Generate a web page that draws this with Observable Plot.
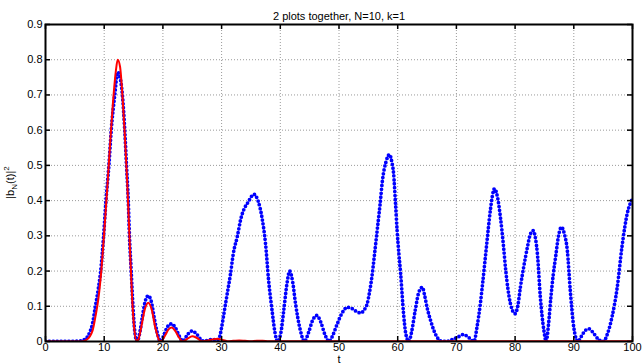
<!DOCTYPE html>
<html>
<head>
<meta charset="utf-8">
<script src="https://cdn.jsdelivr.net/npm/d3@7"></script>
<script src="https://cdn.jsdelivr.net/npm/@observablehq/plot@0.6"></script>
<style>
  html, body { margin: 0; padding: 0; background: #fff; }
  #chart { width: 642px; height: 364px; }
</style>
</head>
<body>
<div id="chart"></div>
<script>
const titleText = "2 plots together, N=10, k=1";
const xLabel = "t";
const xTicks = [0, 10, 20, 30, 40, 50, 60, 70, 80, 90, 100];
const yTicks = [0, 0.1, 0.2, 0.3, 0.4, 0.5, 0.6, 0.7, 0.8, 0.9];

// blue dotted series
const tBlue = [0, 2, 4, 6, 7, 7.5, 8, 8.5, 9, 9.4, 9.9, 10.3, 10.8, 11.2, 11.8, 12.3, 12.7, 13.1, 13.5, 13.8, 14.1, 14.3, 14.6, 14.9, 15.2, 15.6,
  16.0, 16.5, 17.0, 17.5, 18.0, 18.6, 19.2, 19.6, 20.1, 20.7, 21.4, 22.1, 22.8, 23.4, 24.2, 25.0, 25.8, 26.5, 27.0, 27.8, 28.5, 29.2,
  29.6, 30.0, 30.5, 31.0, 31.5, 32.0, 32.7, 33.3, 33.8, 34.5, 35.5, 36.2, 36.9, 37.5, 38.0, 38.6, 39.1, 39.5,
  40.1, 40.6, 41.1, 41.6, 42.1, 42.6, 43.4, 44.1, 44.8, 45.5, 46.2, 46.9, 47.6, 48.3,
  49.0, 49.7, 50.5, 51.4, 52.3, 53.0, 53.7, 54.3, 54.8, 55.2, 55.6, 56.0, 56.5, 57.0, 57.4, 58.0, 58.6, 59.0, 59.3, 59.6, 59.9, 60.2, 60.5, 61.0, 61.4, 61.9,
  62.4, 63.0, 63.6, 64.2, 64.6, 65.0, 65.6, 66.2, 66.8, 67.3, 68.2, 69.2, 70.2, 71.2, 72.2, 73.0,
  73.5, 74.1, 74.5, 75.0, 75.4, 75.8, 76.5, 77.0, 77.5, 78.0, 78.4, 79.2, 80.0, 80.5, 80.9, 81.5, 82.1, 82.6, 83.1, 83.5, 83.8, 84.3, 84.9, 85.3,
  85.7, 86.1, 86.5, 86.9, 87.4, 87.9, 88.4, 88.9, 89.4, 90.0, 90.7, 91.3, 92.0, 92.6, 93.3, 94.2, 95.0,
  95.8, 96.5, 97.4, 98.2, 99.1, 100];
const vBlue = [0, 0, 0, 0.002, 0.01, 0.025, 0.05, 0.1, 0.15, 0.2, 0.3, 0.4, 0.5, 0.6, 0.7, 0.765, 0.75, 0.7, 0.6, 0.5, 0.4, 0.3, 0.2, 0.1, 0.03, 0.0,
  0.02, 0.07, 0.115, 0.13, 0.115, 0.06, 0.015, 0.0, 0.015, 0.04, 0.05, 0.04, 0.015, 0.001, 0.02, 0.03, 0.02, 0.005, 0.001, 0.004, 0.006, 0.004,
  0.01, 0.04, 0.09, 0.14, 0.19, 0.25, 0.3, 0.35, 0.375, 0.395, 0.418, 0.40, 0.35, 0.275, 0.175, 0.088, 0.025, 0.0,
  0.025, 0.09, 0.16, 0.2, 0.17, 0.107, 0.033, 0.0, 0.025, 0.06, 0.074, 0.055, 0.02, 0.0,
  0.02, 0.05, 0.08, 0.097, 0.093, 0.085, 0.081, 0.09, 0.107, 0.14, 0.183, 0.24, 0.315, 0.39, 0.457, 0.51, 0.531, 0.51, 0.477, 0.4, 0.315, 0.25, 0.193, 0.079, 0.02, 0.0,
  0.03, 0.09, 0.14, 0.154, 0.13, 0.097, 0.06, 0.03, 0.01, 0.002, 0.0, 0.005, 0.012, 0.02, 0.01, 0.0,
  0.04, 0.11, 0.17, 0.25, 0.315, 0.375, 0.434, 0.41, 0.353, 0.275, 0.203, 0.108, 0.079, 0.105, 0.154, 0.215, 0.268, 0.305, 0.315, 0.29, 0.249, 0.126, 0.032, 0.0,
  0.05, 0.126, 0.19, 0.24, 0.3, 0.325, 0.305, 0.258, 0.145, 0.04, 0.0, 0.015, 0.032, 0.036, 0.025, 0.006, 0.0,
  0.025, 0.069, 0.154, 0.268, 0.363, 0.405];

// red solid series
const tRed = [0, 2, 4, 6, 7, 8, 8.5, 9, 9.5, 10, 10.5, 11, 11.5, 12, 12.3, 12.7, 13.1, 13.5, 13.9, 14.2, 14.5, 14.8, 15.1, 15.5,
  15.8, 16.3, 16.9, 17.5, 18.1, 18.7, 19.4, 19.7, 20.3, 21.0, 21.5, 22.1, 22.8, 23.4, 24.2, 25.0, 25.8, 26.7, 27.5, 28.5, 29.3, 30.0,
  31, 32, 33, 34, 35, 36, 37, 38, 40, 45, 50, 55, 60, 65, 70, 75, 80, 85, 90, 95, 100];
const vRed = [0, 0, 0, 0, 0.005, 0.03, 0.07, 0.12, 0.2, 0.31, 0.43, 0.56, 0.68, 0.77, 0.80, 0.78, 0.70, 0.59, 0.46, 0.34, 0.22, 0.11, 0.04, 0.002,
  0.005, 0.04, 0.09, 0.11, 0.09, 0.04, 0.003, 0.001, 0.015, 0.035, 0.04, 0.03, 0.01, 0.0, 0.008, 0.015, 0.01, 0.001, 0.002, 0.006, 0.008, 0.005,
  0.001, 0.002, 0.003, 0.002, 0.001, 0.002, 0.002, 0.001, 0.001, 0.001, 0.001, 0.001, 0.001, 0.001, 0.001, 0.001, 0.001, 0.001, 0.001, 0.001, 0.001];

const blue = tBlue.map((t, i) => ({t, v: vBlue[i]}));
const red = tRed.map((t, i) => ({t, v: vRed[i]}));

const W = 642, H = 364;
const mL = 45, mR = 10, mT = 24, mB = 23;
const tickLenY = 0.9 * 5 / (H - mT - mB);
const tickLenX = 100 * 5 / (W - mL - mR);
const fmt = d => String(+d.toFixed(1));

const chart = Plot.plot({
  width: W, height: H,
  marginLeft: mL, marginRight: mR, marginTop: mT, marginBottom: mB,
  style: {fontFamily: "'Liberation Sans', Arial, Helvetica, sans-serif", fontSize: "11px", color: "#000", background: "#fff"},
  x: {domain: [0, 100], label: null},
  y: {domain: [0, 0.9], label: null},
  marks: [
    Plot.ruleX(xTicks.slice(1, -1), {stroke: "#9a9a9a", strokeDasharray: "1,2", strokeWidth: 1}),
    Plot.ruleY(yTicks.slice(1), {stroke: "#9a9a9a", strokeDasharray: "1,2", strokeWidth: 1}),
    Plot.line(blue, {x: "t", y: "v", curve: "monotone-x", stroke: "#0000ff", strokeWidth: 3.8, strokeDasharray: "0 3.9", strokeLinecap: "round", clip: true}),
    Plot.line(red, {x: "t", y: "v", curve: "monotone-x", stroke: "#ff0000", strokeWidth: 2, clip: true}),
    // inward ticks
    Plot.ruleX(xTicks, {y1: 0, y2: tickLenY, stroke: "#000", strokeWidth: 1.5}),
    Plot.ruleX(xTicks, {y1: 0.9, y2: 0.9 - tickLenY, stroke: "#000", strokeWidth: 1.5}),
    Plot.ruleY(yTicks, {x1: 0, x2: tickLenX, stroke: "#000", strokeWidth: 1.5}),
    Plot.ruleY(yTicks, {x1: 100, x2: 100 - tickLenX, stroke: "#000", strokeWidth: 1.5}),
    Plot.frame({stroke: "#000", strokeWidth: 2}),
    Plot.axisX({ticks: xTicks, tickSize: 0, tickPadding: 2, tickFormat: fmt, fontSize: 11, label: null}),
    Plot.axisY({ticks: yTicks, tickSize: 0, tickPadding: 3, tickFormat: fmt, fontSize: 11, label: null}),
    Plot.text([titleText], {frameAnchor: "top", dy: -12, fontSize: 11, fill: "#000"}),
    Plot.text([xLabel], {frameAnchor: "bottom", lineAnchor: "top", dy: 14, fontSize: 11, fill: "#000"})
  ]
});

// y-axis label with subscript and superscript
const yMid = chart.scale("y").apply(0.45);
const lab = d3.select(chart).append("text")
  .attr("transform", `translate(14,${yMid}) rotate(-90)`)
  .attr("text-anchor", "middle")
  .attr("font-size", 11)
  .attr("fill", "#000");
lab.append("tspan").text("|b");
lab.append("tspan").attr("font-size", 8).attr("dy", 3).text("N");
lab.append("tspan").attr("dy", -3).text("(t)|");
lab.append("tspan").attr("font-size", 8).attr("dy", -5).text("2");

document.getElementById("chart").appendChild(chart);
</script>
</body>
</html>
